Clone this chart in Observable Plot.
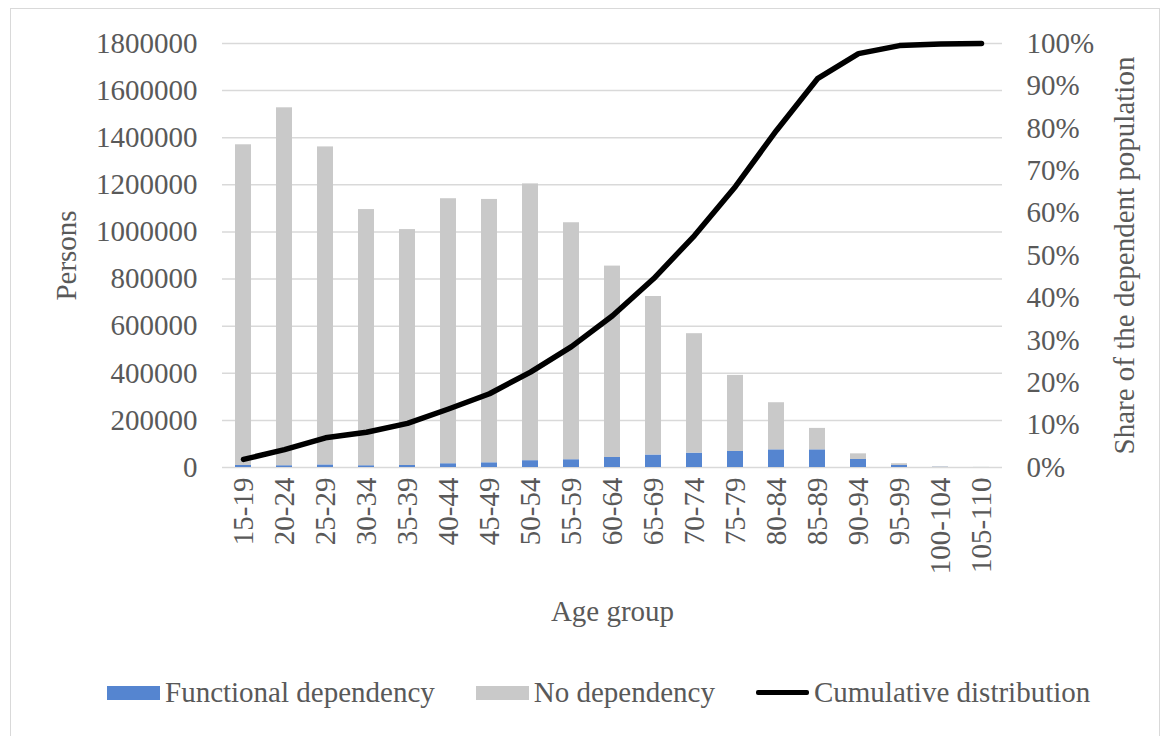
<!DOCTYPE html>
<html><head><meta charset="utf-8">
<script src="https://cdn.jsdelivr.net/npm/d3@7"></script>
<script src="https://cdn.jsdelivr.net/npm/@observablehq/plot@0.6"></script>
<style>
body{margin:0;background:#fff;font-family:"Liberation Serif","Times New Roman",serif;}
#wrap{position:relative;width:1167px;height:736px;overflow:hidden;background:#fff;}
#frame{position:absolute;left:10px;top:8px;width:1150px;height:740px;border:1.5px solid #d9d9d9;box-sizing:border-box;}
#chart{position:absolute;left:0;top:0;}
#legend{position:absolute;left:107px;top:676px;display:flex;align-items:center;gap:41px;font-size:29px;color:#595959;white-space:nowrap;}
.item{display:flex;align-items:center;gap:5px;}
.sw{width:53px;height:14px;}
.ln{width:53px;height:5px;border-radius:2px;}
</style></head>
<body><div id="wrap"><div id="frame"></div><div id="chart"></div><div id="legend"></div></div>
<script>
const ageGroups = ["15-19","20-24","25-29","30-34","35-39","40-44","45-49","50-54","55-59","60-64","65-69","70-74","75-79","80-84","85-89","90-94","95-99","100-104","105-110"];
const functionalDependency = [8500, 7500, 11000, 7500, 8500, 16000, 20000, 29000, 33000, 42500, 53000, 61000, 68000, 75000, 75000, 34000, 8500, 1000, 100];
const noDependency = [1361500, 1519500, 1350000, 1087500, 1001500, 1125000, 1118000, 1175000, 1006000, 812500, 673000, 507000, 323000, 200000, 91000, 24000, 7500, 2000, 400];
const cumulativeShare = [1.9, 4.2, 7.0, 8.3, 10.4, 13.8, 17.4, 22.5, 28.5, 35.8, 44.5, 54.7, 66.3, 79.5, 91.7, 97.6, 99.5, 99.9, 100];
const leftTicks = d3.range(0, 1800001, 200000);
const rightTicks = d3.range(0, 101, 10);
const seriesNames = ["Functional dependency", "No dependency", "Cumulative distribution"];
const seriesColors = ["#5585d0", "#c9c9c9", "#000000"];
const yMax = 1800000;

const bars = ageGroups.flatMap((g, i) => [
  {age: g, series: seriesNames[0], value: functionalDependency[i]},
  {age: g, series: seriesNames[1], value: noDependency[i]}
]);
const line = ageGroups.map((g, i) => ({age: g, share: cumulativeShare[i]}));

const font = '"Liberation Serif","Times New Roman",serif';
const chart = Plot.plot({
  width: 1167, height: 650,
  marginLeft: 222, marginRight: 165, marginTop: 43, marginBottom: 183,
  style: {fontFamily: font, fontSize: "29px", color: "#595959", background: "transparent", overflow: "visible"},
  x: {domain: ageGroups, paddingInner: 0.61, paddingOuter: 0.305},
  y: {domain: [0, yMax]},
  color: {domain: seriesNames.slice(0, 2), range: seriesColors.slice(0, 2)},
  marks: [
    Plot.gridY(leftTicks, {stroke: "#d9d9d9", strokeOpacity: 1, strokeWidth: 1.5}),
    Plot.barY(bars, {x: "age", y: "value", fill: "series", order: seriesNames.slice(0, 2)}),
    Plot.lineY(line, {x: "age", y: d => d.share / 100 * yMax, stroke: seriesColors[2], strokeWidth: 5.5, strokeLinejoin: "round"}),
    Plot.axisY(leftTicks, {anchor: "left", tickSize: 0, tickPadding: 25, tickFormat: d3.format("d"), label: "Persons", labelAnchor: "center", labelOffset: 167, labelArrow: "none"}),
    Plot.axisY(rightTicks.map(t => t / 100 * yMax), {anchor: "right", tickSize: 0, tickPadding: 24, tickFormat: d => Math.round(d / yMax * 100) + "%", label: "Share of the dependent population", labelAnchor: "center", labelOffset: 131, labelArrow: "none"}),
    Plot.axisX({tickSize: 0, tickPadding: 10, tickRotate: -90, label: "Age group", labelAnchor: "center", labelOffset: 153, labelArrow: "none"})
  ]
});
document.getElementById("chart").appendChild(chart);

const legend = document.getElementById("legend");
seriesNames.forEach((name, i) => {
  const item = document.createElement("div");
  item.className = "item";
  const sw = document.createElement("div");
  sw.className = i === 2 ? "ln" : "sw";
  sw.style.background = seriesColors[i];
  const label = document.createElement("span");
  label.textContent = name;
  item.appendChild(sw);
  item.appendChild(label);
  legend.appendChild(item);
});
</script>
</body></html>
